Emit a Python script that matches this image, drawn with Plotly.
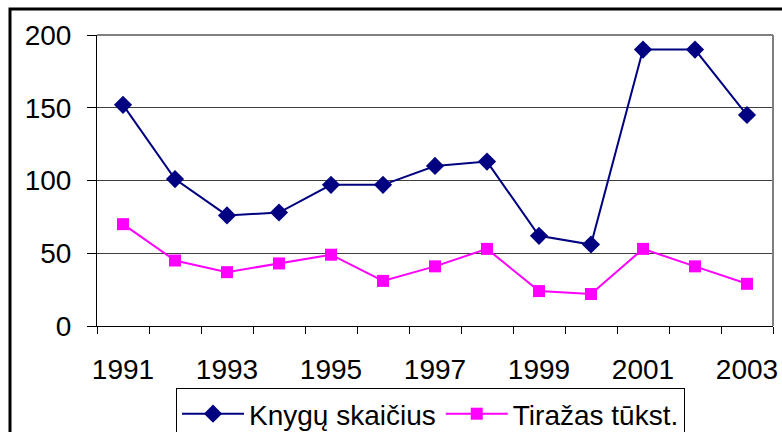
import plotly.graph_objects as go

years = ["1991", "1992", "1993", "1994", "1995", "1996", "1997",
         "1998", "1999", "2000", "2001", "2002", "2003"]
tick_labels = ["1991", "", "1993", "", "1995", "", "1997",
               "", "1999", "", "2001", "", "2003"]
knygu = [152, 101, 76, 78, 97, 97, 110, 113, 62, 56, 190, 190, 145]
tirazas = [70, 45, 37, 43, 49, 31, 41, 53, 24, 22, 53, 41, 29]

FONT = "Arial, Liberation Sans, sans-serif"
FS = 28

fig = go.Figure()
fig.add_trace(go.Scatter(
    x=years, y=knygu, name="Knygų skaičius", mode="lines+markers",
    line=dict(color="#000080", width=2),
    marker=dict(symbol="diamond", size=14, color="#000080"),
))
fig.add_trace(go.Scatter(
    x=years, y=tirazas, name="Tiražas tūkst.", mode="lines+markers",
    line=dict(color="#FF00FF", width=2),
    marker=dict(symbol="square", size=12, color="#FF00FF"),
))

W, H = 782, 432
# reference pixel positions of the plot area
RL, RR, RT, RB = 97, 773, 35, 326
L, T = RL, RT
R, B = W - RR, H - RB
pw, ph = W - L - R, H - T - B

def px(x):
    return (x - L) / pw

def py(y):
    return (H - B - y) / ph

fig.update_layout(
    width=W, height=H,
    margin=dict(l=L, r=R, t=T, b=B, pad=0, autoexpand=False),
    paper_bgcolor="white", plot_bgcolor="white",
    font=dict(family=FONT, size=FS, color="black"),
    showlegend=True,
    legend=dict(
        orientation="h", x=px(176), y=py(388), xanchor="left", yanchor="top",
        bordercolor="black", borderwidth=1, bgcolor="white",
        font=dict(family=FONT, size=FS, color="black"),
        itemwidth=62, tracegroupgap=0,
    ),
    xaxis=dict(
        type="category", tickmode="array", tickvals=years, ticktext=tick_labels,
        tickson="boundaries", ticks="outside", ticklen=7, tickwidth=1,
        tickcolor="black", showline=True, linecolor="black", linewidth=1,
        showgrid=False, zeroline=False, ticklabelstandoff=18, tickangle=0,
        automargin=False, ticklabeloverflow="allow",
        tickfont=dict(family=FONT, size=FS, color="black"),
        range=[-0.5, 12.5],
    ),
    yaxis=dict(
        range=[0, 200], tickmode="linear", tick0=0, dtick=50,
        ticks="outside", ticklen=9, tickwidth=1, tickcolor="black",
        showline=True, linecolor="black", linewidth=1,
        showgrid=True, gridcolor="#404040", gridwidth=1, zeroline=False,
        ticklabelstandoff=10, automargin=False,
        tickfont=dict(family=FONT, size=FS, color="black"),
    ),
    shapes=[
        dict(type="line", xref="paper", yref="paper", x0=0, x1=1, y0=1, y1=1,
             line=dict(color="#808080", width=2), layer="above"),
        dict(type="line", xref="paper", yref="paper", x0=1, x1=1, y0=0, y1=1,
             line=dict(color="#808080", width=2), layer="above"),
        dict(type="rect", xref="paper", yref="paper",
             x0=px(10), x1=px(800), y0=py(445), y1=py(9),
             line=dict(color="black", width=3), layer="above"),
    ],
)

fig.write_html(
    "out.html",
    config={"displayModeBar": False},
    post_script="document.body.style.margin='0';document.body.style.overflow='hidden';",
)
